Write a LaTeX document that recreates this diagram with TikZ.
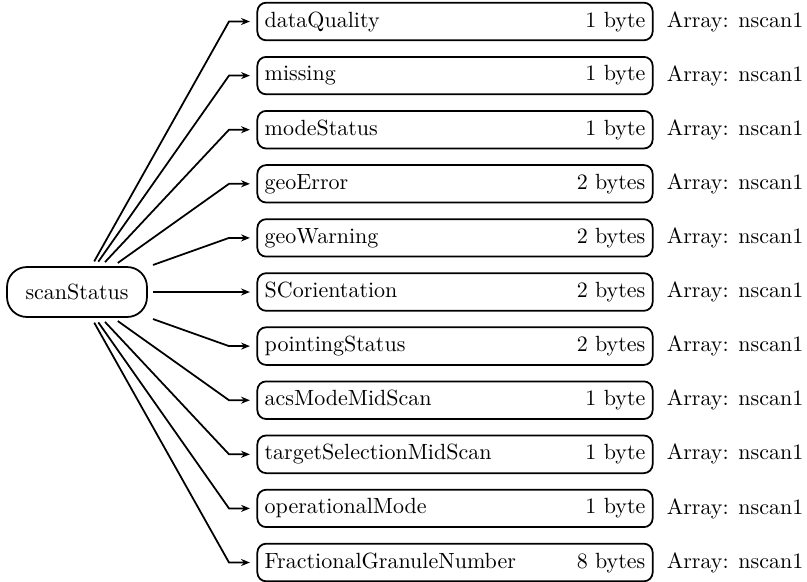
\documentclass[tikz,border=0pt]{standalone}
\usetikzlibrary{arrows.meta}
\newcommand\fieldtext[2]{\makebox[173pt]{#1\hfill #2}}
\begin{document}
\begin{tikzpicture}[x=0.4545pt,y=-0.4545pt,
  rootbox/.style={draw,thick,rounded corners=9pt,minimum width=63.6pt,minimum height=22.7pt},
  fieldbox/.style={draw,thick,rounded corners=4pt,inner xsep=3.33pt,inner ysep=4pt},
  link/.style={thick,-{Stealth[length=4pt,width=3.2pt]},shorten <=2.5pt,shorten >=3pt}]
  \useasboundingbox (0,0) rectangle (807,581);
  \node[rootbox] (root) at (77,292) {scanStatus};
  \foreach \i/\fname/\fsize in {
      1/dataQuality/1 byte,
      2/missing/1 byte,
      3/modeStatus/1 byte,
      4/geoError/2 bytes,
      5/geoWarning/2 bytes,
      6/SCorientation/2 bytes,
      7/pointingStatus/2 bytes,
      8/acsModeMidScan/1 byte,
      9/targetSelectionMidScan/1 byte,
      10/operationalMode/1 byte,
      11/FractionalGranuleNumber/8 bytes} {
    \node[fieldbox] (f\i) at (455,{21.5+54.1*(\i-1)}) {\fieldtext{\fname}{\fsize}};
    \coordinate (b\i) at (229,{21.5+54.1*(\i-1)});
    \draw[link] (root) -- (b\i) -- (f\i);
    \node[anchor=west] (a\i) at ([xshift=2.5pt]f\i.east) {Array: nscan1};
  }
\end{tikzpicture}
\end{document}
